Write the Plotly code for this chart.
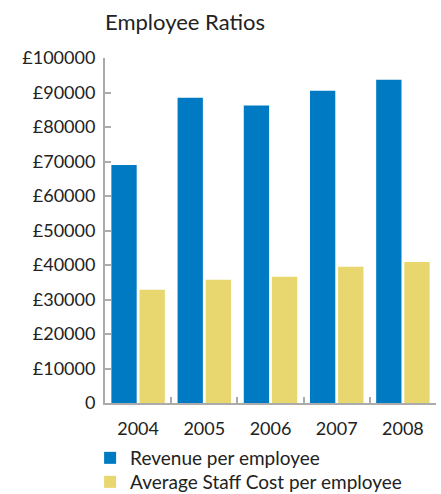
import plotly.graph_objects as go

years = ["2004", "2005", "2006", "2007", "2008"]
revenue = [69000, 88500, 86200, 90500, 93700]
staff_cost = [32800, 35700, 36600, 39500, 40900]
y_tickvals = [0, 10000, 20000, 30000, 40000, 50000, 60000, 70000, 80000, 90000, 100000]
y_ticktext = ["0", "£10000", "£20000", "£30000", "£40000", "£50000",
              "£60000", "£70000", "£80000", "£90000", "£100000"]

FONT = "Lato"
AXIS_COLOR = "#ababab"
PLOT_H = 345  # plot area height in px (494 - 58 - 91)

fig = go.Figure()
fig.add_trace(go.Bar(x=years, y=revenue, name="Revenue per employee",
                     marker=dict(color="#007BC3", line=dict(width=0)),
                     legend="legend"))
fig.add_trace(go.Bar(x=years, y=staff_cost, name="Average Staff Cost per employee",
                     marker=dict(color="#E8D66E", line=dict(width=0)),
                     legend="legend2"))

legend_common = dict(x=-0.045, xref="paper", xanchor="left", yanchor="middle",
                     orientation="v", font=dict(family=FONT, size=19, color="#222222"),
                     itemsizing="constant", bgcolor="rgba(0,0,0,0)")

fig.update_layout(
    width=441, height=494,
    margin=dict(l=105, r=5, t=58, b=91, autoexpand=False),
    paper_bgcolor="white", plot_bgcolor="white",
    font=dict(family=FONT, size=18, color="#222222"),
    title=dict(text="Employee Ratios", x=0, xref="paper", xanchor="left",
               y=1 - 22 / 494, yref="container", yanchor="middle",
               font=dict(family=FONT, size=22, color="#222222")),
    barmode="group", bargap=0.15, bargroupgap=0.1,
    showlegend=True,
    legend=dict(y=-(458 - 403) / PLOT_H, **legend_common),
    legend2=dict(y=-(482 - 403) / PLOT_H, **legend_common),
)
fig.update_xaxes(showline=True, linecolor=AXIS_COLOR, linewidth=2,
                 ticks="inside", tickson="boundaries", ticklen=6, tickwidth=2,
                 tickcolor=AXIS_COLOR, showgrid=False, zeroline=False,
                 ticklabelstandoff=8, fixedrange=True)
fig.update_yaxes(range=[0, 100000], showline=True, linecolor=AXIS_COLOR, linewidth=2,
                 ticks="inside", ticklen=6, tickwidth=2, tickcolor=AXIS_COLOR,
                 tickvals=y_tickvals, ticktext=y_ticktext,
                 showgrid=False, zeroline=False, ticklabelstandoff=4, fixedrange=True)

fig.write_html("out.html")
